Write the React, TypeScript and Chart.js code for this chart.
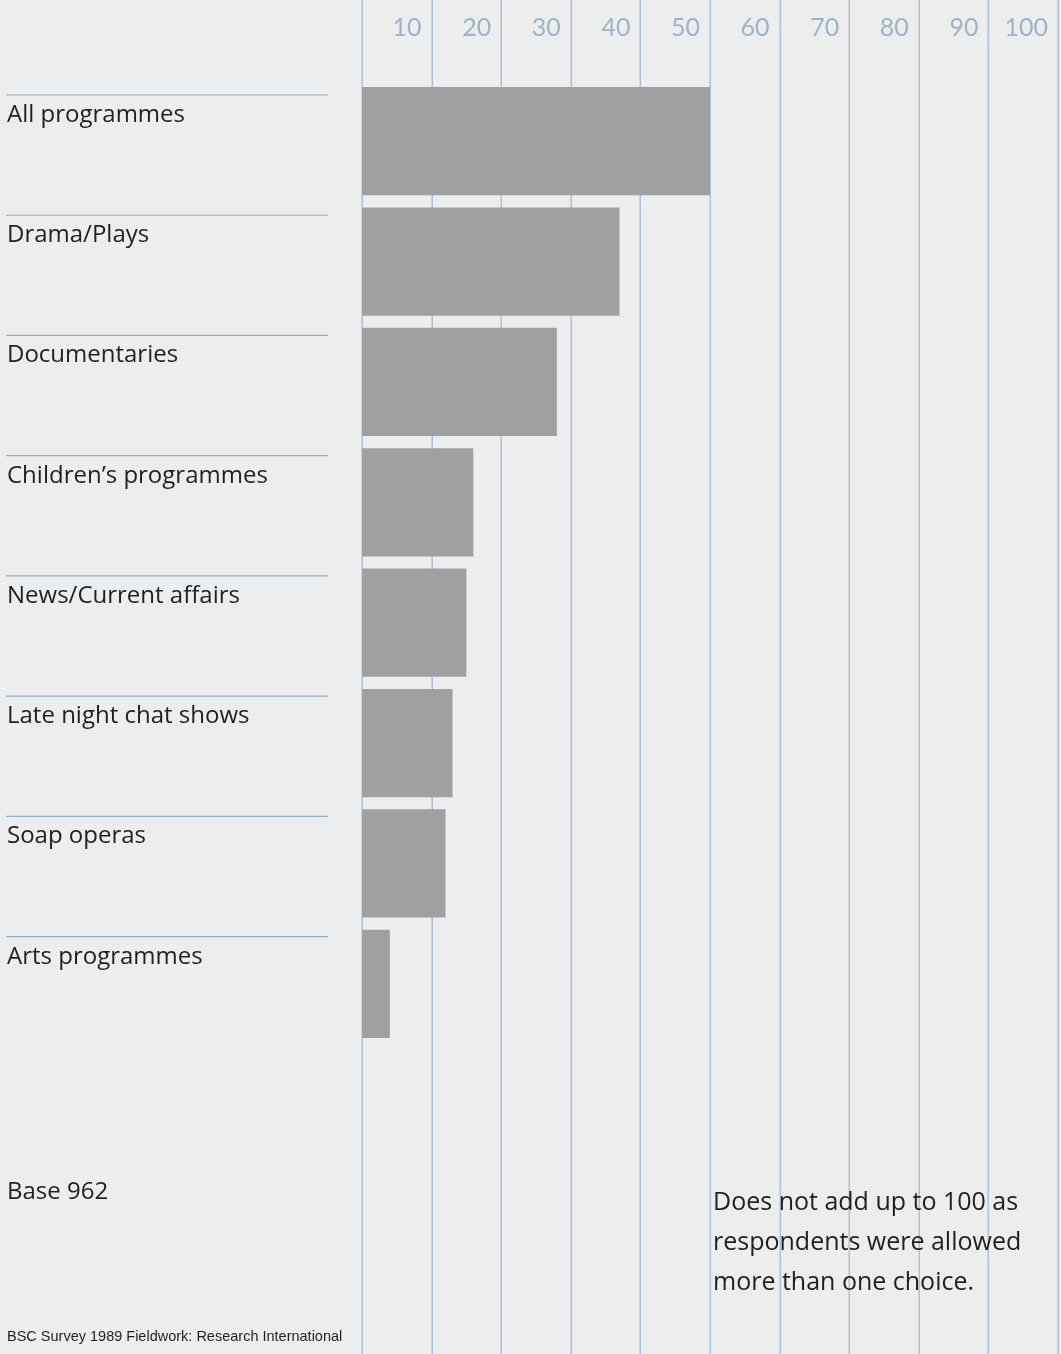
import React, { useEffect, useRef } from "react";
import { Chart, registerables } from "chart.js";

Chart.register(...registerables);

const categories = [
  "All programmes",
  "Drama/Plays",
  "Documentaries",
  "Children\u2019s programmes",
  "News/Current affairs",
  "Late night chat shows",
  "Soap operas",
  "Arts programmes",
];
const values = [50, 37, 28, 16, 15, 13, 12, 4];
const xTickValues = [10, 20, 30, 40, 50, 60, 70, 80, 90, 100];
const gridValues = [0, 10, 20, 30, 40, 50, 60, 70, 80, 90, 100];
const baseLabel = "Base 962";
const noteLines = [
  "Does not add up to 100 as",
  "respondents were allowed",
  "more than one choice.",
];
const sourceText = "BSC Survey 1989 Fieldwork: Research International";

const W = 1061;
const H = 1354;
const BG = "#eceeed";
const GRID = "#a9c1da";
const BAR = "#a0a0a0";
const TEXT = "#1f1f1f";

const decorPlugin = {
  id: "decor",
  beforeDraw(chart: any) {
    const ctx = chart.ctx;
    ctx.save();
    ctx.fillStyle = BG;
    ctx.fillRect(0, 0, chart.width, chart.height);
    ctx.restore();
  },
  beforeDatasetsDraw(chart: any) {
    const ctx = chart.ctx;
    const xs = chart.scales.x;
    const ys = chart.scales.y;
    ctx.save();
    // vertical grid lines over full page height
    ctx.strokeStyle = GRID;
    ctx.lineWidth = 1.5;
    gridValues.forEach((v) => {
      const px = Math.round(xs.getPixelForValue(v)) + 0.25;
      ctx.beginPath();
      ctx.moveTo(px, 0);
      ctx.lineTo(px, chart.height);
      ctx.stroke();
    });
    // tick labels
    ctx.fillStyle = "#9db3c9";
    ctx.font = "25px Lato, 'Open Sans', sans-serif";
    ctx.textAlign = "right";
    ctx.textBaseline = "alphabetic";
    xTickValues.forEach((v) => {
      const px = xs.getPixelForValue(v);
      ctx.fillText(String(v), px - 10, 36);
    });
    // category labels with rule above
    const half = (ys.getPixelForValue(1) - ys.getPixelForValue(0)) / 2;
    categories.forEach((c, i) => {
      const cy = ys.getPixelForValue(i);
      const top = cy - half;
      ctx.strokeStyle = "#8eaecd";
      ctx.lineWidth = 1.2;
      ctx.beginPath();
      ctx.moveTo(6, top + 14 - i * 0.15);
      ctx.lineTo(328, top + 14 - i * 0.15);
      ctx.stroke();
      ctx.fillStyle = TEXT;
      ctx.font = "24px 'Open Sans', sans-serif";
      ctx.textAlign = "left";
      ctx.textBaseline = "alphabetic";
      ctx.fillText(c, 7, top + 41 - i * 0.15);
    });
    ctx.restore();
  },
  afterDraw(chart: any) {
    const ctx = chart.ctx;
    ctx.save();
    ctx.fillStyle = TEXT;
    ctx.textAlign = "left";
    ctx.textBaseline = "alphabetic";
    ctx.font = "24px 'Open Sans', sans-serif";
    ctx.fillText(baseLabel, 7, 1199);
    ctx.font = "25px 'Open Sans', sans-serif";
    noteLines.forEach((l, i) => {
      ctx.fillText(l, 713, 1210 + i * 40);
    });
    ctx.font = "14.5px 'Liberation Sans Narrow', 'Liberation Sans', sans-serif";
    ctx.fillText(sourceText, 7, 1341);
    ctx.restore();
  },
};

export default function App() {
  const ref = useRef<HTMLCanvasElement | null>(null);
  useEffect(() => {
    document.body.style.margin = "0";
    document.body.style.background = BG;
    const canvas = ref.current;
    if (!canvas) return;
    const chart = new Chart(canvas, {
      type: "bar",
      data: {
        labels: categories,
        datasets: [
          {
            data: values,
            backgroundColor: BAR,
            borderWidth: 0,
            categoryPercentage: 0.9,
            barPercentage: 1.0,
          },
        ],
      },
      options: {
        indexAxis: "y",
        responsive: false,
        animation: false,
        devicePixelRatio: 1,
        layout: { padding: { left: 362, right: 3, top: 81, bottom: 310 } },
        plugins: {
          legend: { display: false },
          tooltip: { enabled: false },
        },
        scales: {
          x: { type: "linear", min: 0, max: 100, display: false },
          y: { type: "category", display: false },
        },
      },
      plugins: [decorPlugin],
    });
    return () => chart.destroy();
  }, []);
  return (
    <div style={{ position: "absolute", left: 0, top: 0, width: W, height: H }}>
      <canvas ref={ref} width={W} height={H} style={{ display: "block" }} />
    </div>
  );
}
